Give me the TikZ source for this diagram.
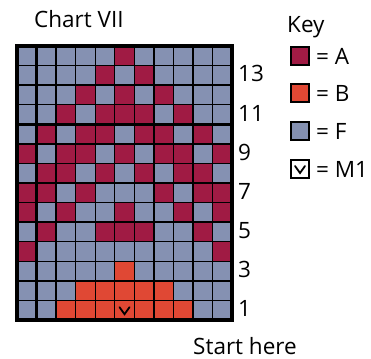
\documentclass[tikz,border=0pt]{standalone}
\usepackage{fontspec}
\setmainfont{Open Sans}
\definecolor{colA}{RGB}{160,27,68}
\definecolor{colB}{RGB}{224,72,52}
\definecolor{colF}{RGB}{133,145,178}
\definecolor{colM}{RGB}{224,72,52}
\tikzset{
  lbl/.style={font=\fontsize{22.5}{26}\selectfont, inner sep=0pt},
  thinline/.style={line width=1.4pt, black},
  thickline/.style={line width=3pt, black},
  keybox/.style={draw=black, line width=2.2pt, minimum width=18pt, minimum height=18pt, inner sep=0pt},
  vmark/.style={line width=1.8pt, black, line cap=round, line join=miter}
}
\begin{document}
\begin{tikzpicture}[x=1pt,y=-1pt]
\useasboundingbox (0,0) rectangle (371,358);
\def\gx{17}\def\gy{46}\def\cw{19.55}\def\ch{19.57}
% cells
\foreach \row [count=\ri] in {
 {F,F,F,F,F,A,F,F,F,F,F},
 {F,F,F,F,A,F,A,F,F,F,F},
 {F,F,F,A,F,A,F,A,F,F,F},
 {F,F,A,F,A,A,A,F,A,F,F},
 {F,A,F,A,A,F,A,A,F,A,F},
 {A,F,A,A,F,A,F,A,A,F,A},
 {F,A,A,F,A,F,A,F,A,A,F},
 {A,A,F,A,F,F,F,A,F,A,A},
 {A,F,A,F,F,A,F,F,A,F,A},
 {F,A,F,F,A,A,A,F,F,A,F},
 {A,F,F,F,F,F,F,F,F,F,A},
 {F,F,F,F,F,B,F,F,F,F,F},
 {F,F,F,B,B,B,B,B,F,F,F},
 {F,F,B,B,B,M,B,B,B,F,F}} {
  \foreach \c [count=\ci] in \row {
    \fill[col\c] ({\gx+(\ci-1)*\cw},{\gy+(\ri-1)*\ch}) rectangle ++(\cw,\ch);
  }
}
% M1 mark in chart
\coordinate (m1) at ({\gx+5.5*\cw},{\gy+13.5*\ch});
\draw[vmark] ([shift={(-5,-3)}]m1) -- ([shift={(0,4)}]m1) -- ([shift={(5,-3)}]m1);
% grid lines
\foreach \i in {1,...,10} {
  \draw[thinline] ({\gx+\i*\cw},\gy) -- ({\gx+\i*\cw},{\gy+14*\ch});
}
\foreach \j in {1,...,13} {
  \draw[thinline] (\gx,{\gy+\j*\ch}) -- ({\gx+11*\cw},{\gy+\j*\ch});
}
\draw[thickline] ({\gx+\cw},\gy) -- ({\gx+\cw},{\gy+14*\ch});
\draw[thickline] (\gx,{\gy+4*\ch}) -- ({\gx+11*\cw},{\gy+4*\ch});
\draw[line width=3.5pt, black] (\gx,\gy) rectangle ({\gx+11*\cw},{\gy+14*\ch});
% title
\node[lbl, anchor=base west] (title) at (34,28) {Chart VII};
\node[lbl, anchor=base] (start) at (245,354) {Start here};
% row numbers
\foreach \n in {1,3,5,7,9,11,13} {
  \node[lbl, anchor=west] (r\n) at (238,{\gy+(14-\n+0.5)*\ch-1.5}) {\n};
}
% key
\node[lbl, anchor=base west] (key) at (287,33) {Key};
\node[keybox, fill=colA] (kA) at (300,56) {};
\node[keybox, fill=colB] (kB) at (300,93) {};
\node[keybox, fill=colF] (kF) at (300,131) {};
\node[keybox, fill=white] (kM) at (300,169) {};
\draw[vmark] ([shift={(-5,-3)}]kM.center) -- ([shift={(0,4)}]kM.center) -- ([shift={(5,-3)}]kM.center);
\node[lbl, anchor=west] (tA) at (316,56) {= A};
\node[lbl, anchor=west] (tB) at (316,93) {= B};
\node[lbl, anchor=west] (tF) at (316,131) {= F};
\node[lbl, anchor=west] (tM) at (316,169) {= M1};
\end{tikzpicture}
\end{document}
